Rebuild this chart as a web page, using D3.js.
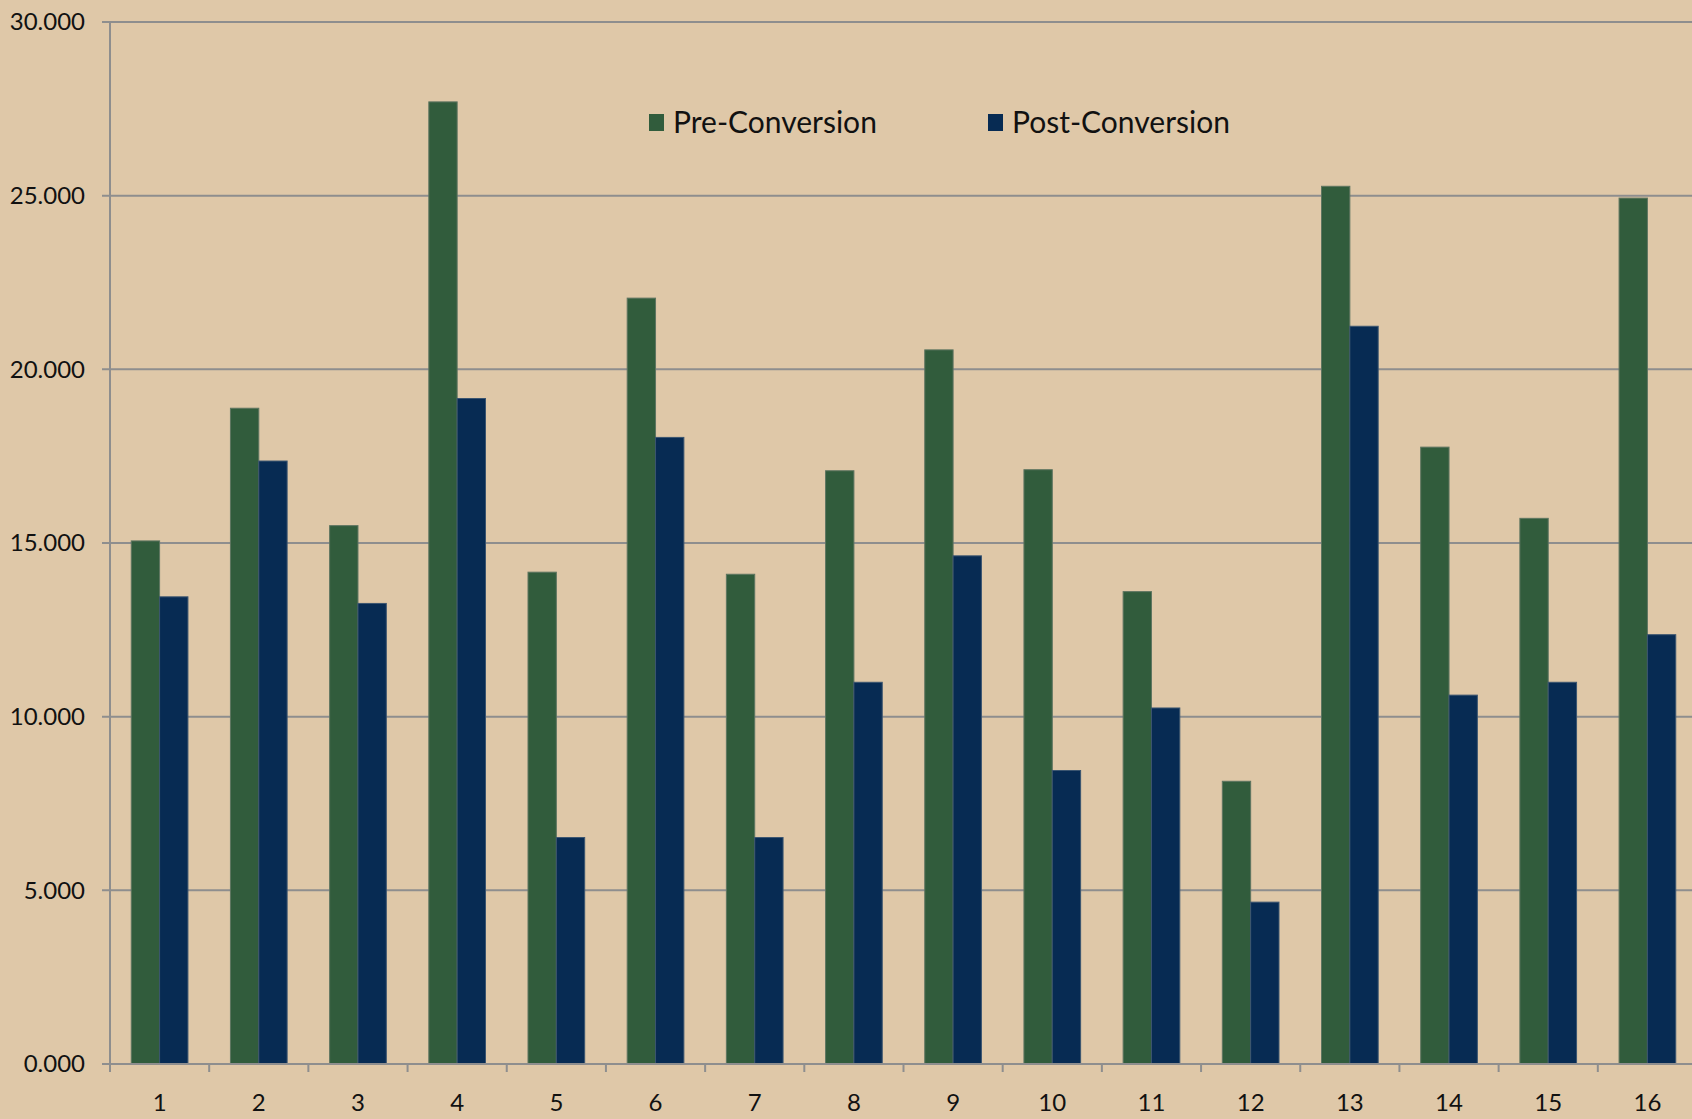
<!DOCTYPE html>
<html>
<head>
<meta charset="utf-8">
<script src="https://cdn.jsdelivr.net/npm/d3@7"></script>
<style>
  html, body { margin: 0; padding: 0; background: #dfc8a8; }
  svg { display: block; }
  text { font-family: "Lato", "Open Sans", sans-serif; fill: #111; }
</style>
</head>
<body>
<svg id="chart" width="1692" height="1119"></svg>
<script>
const categories = ["1","2","3","4","5","6","7","8","9","10","11","12","13","14","15","16"];
const seriesNames = ["Pre-Conversion", "Post-Conversion"];
const preConversion  = [15.06, 18.88, 15.50, 27.70, 14.16, 22.05, 14.10, 17.08, 20.56, 17.11, 13.60, 8.14, 25.27, 17.76, 15.71, 24.93];
const postConversion = [13.45, 17.36, 13.26, 19.16, 6.52, 18.04, 6.52, 10.99, 14.63, 8.45, 10.25, 4.66, 21.24, 10.62, 10.99, 12.36];
const yTicks = [0, 5, 10, 15, 20, 25, 30];
const colors = ["#315c3c", "#072b53"];

const W = 1692, H = 1119;
const margin = {left: 110, top: 22, right: -5, bottom: 55};
const svg = d3.select("#chart");
svg.append("rect").attr("width", W).attr("height", H).attr("fill", "#dfc8a8");

const x = d3.scaleBand().domain(categories).range([margin.left, W - margin.right]).padding(0);
const y = d3.scaleLinear().domain([0, 30]).range([H - margin.bottom, margin.top]);
const grid = "#8e8e8e";

// gridlines
svg.append("g").selectAll("line").data(yTicks).join("line")
  .attr("x1", margin.left - 8).attr("x2", W)
  .attr("y1", d => y(d)).attr("y2", d => y(d))
  .attr("stroke", grid).attr("stroke-width", 2);

// y axis line
svg.append("line").attr("x1", margin.left).attr("x2", margin.left)
  .attr("y1", y(30)).attr("y2", y(0)).attr("stroke", grid).attr("stroke-width", 2);

// y labels
svg.append("g").selectAll("text").data(yTicks).join("text")
  .attr("x", 85).attr("y", d => y(d)).attr("dy", "0.35em")
  .attr("text-anchor", "end").attr("font-size", 24)
  .text(d => d3.format(".3f")(d));

// bars
const bw = x.bandwidth();
const sub = d3.scaleBand().domain([0, 1]).range([bw * 0.2143, bw * 0.7857]).padding(0);
const data = categories.map((c, i) => ({c, v: [preConversion[i], postConversion[i]]}));
const groups = svg.append("g").selectAll("g").data(data).join("g")
  .attr("transform", d => `translate(${x(d.c)},0)`);
groups.selectAll("rect").data(d => d.v.map((v, k) => ({v, k}))).join("rect")
  .attr("x", d => sub(d.k)).attr("width", sub.bandwidth())
  .attr("y", d => y(d.v)).attr("height", d => y(0) - y(d.v))
  .attr("fill", d => colors[d.k])
  .attr("stroke", d => d.k === 0 ? "#5e7560" : "#3b5570").attr("stroke-width", 1);

// x axis line + ticks
svg.append("line").attr("x1", margin.left).attr("x2", W)
  .attr("y1", y(0)).attr("y2", y(0)).attr("stroke", grid).attr("stroke-width", 2);
const tickPos = categories.map(c => x(c));
svg.append("g").selectAll("line").data(tickPos).join("line")
  .attr("x1", d => d).attr("x2", d => d)
  .attr("y1", y(0)).attr("y2", y(0) + 8)
  .attr("stroke", grid).attr("stroke-width", 2);

// x labels
svg.append("g").selectAll("text").data(categories).join("text")
  .attr("x", d => x(d) + bw / 2).attr("y", 1111)
  .attr("text-anchor", "middle").attr("font-size", 24)
  .text(d => d);

// legend
const legendPos = [649, 988];
const leg = svg.append("g").selectAll("g").data(seriesNames).join("g")
  .attr("transform", (d, i) => `translate(${legendPos[i]},0)`);
leg.append("rect").attr("x", 0).attr("y", 114).attr("width", 15).attr("height", 17)
  .attr("fill", (d, i) => colors[i]);
leg.append("text").attr("x", 24).attr("y", 133).attr("font-size", 30).text(d => d);
</script>
</body>
</html>
